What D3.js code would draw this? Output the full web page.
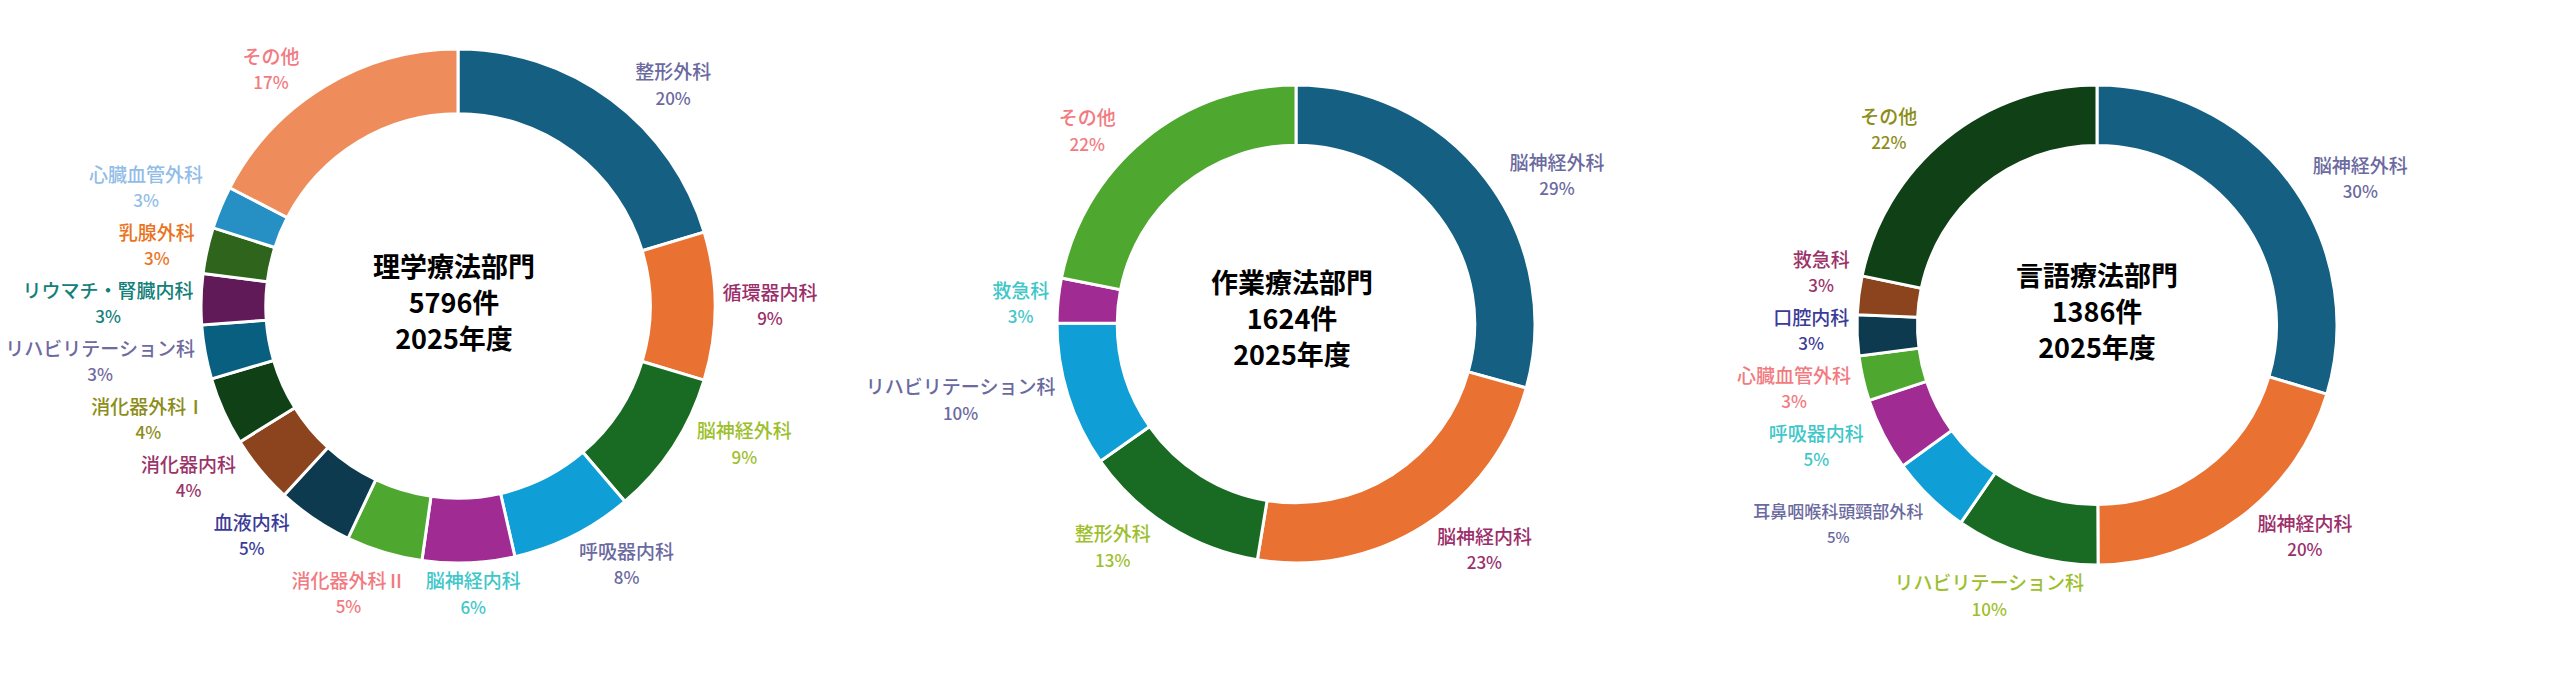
<html>
<head>
<script src="https://d3js.org/d3.v7.min.js"></script>
<style>
    body{ margin:0; background:#fff; }
    text{ font-family:"Noto Sans CJK JP","Noto Sans",sans-serif; }
</style>
</head>
<body>
<script>

// 理学療法部門
var ptCats = ["整形外科","循環器内科","脳神経外科","呼吸器内科","脳神経内科","消化器外科Ⅱ","血液内科",
              "消化器内科","消化器外科Ⅰ","リハビリテーション科","リウマチ・腎臓内科","乳腺外科","心臓血管外科","その他"];
var ptValues = [1180, 539, 527, 446, 336, 278, 278, 249, 249, 197, 185, 168, 156, 1008];

// 作業療法部門
var otCats = ["脳神経外科","脳神経内科","整形外科","リハビリテーション科","救急科","その他"];
var otValues = [476, 378, 206, 159, 49, 356];

// 言語療法部門
var stCats = ["脳神経外科","脳神経内科","リハビリテーション科","耳鼻咽喉科頭頸部外科","呼吸器内科",
              "心臓血管外科","口腔内科","救急科","その他"];
var stValues = [411, 281, 134, 75, 68, 42, 38, 36, 301];

var titles = [
    ["理学療法部門","5796件","2025年度"],
    ["作業療法部門","1624件","2025年度"],
    ["言語療法部門","1386件","2025年度"]
];

var segColors = ["#156082","#E97132","#196B24","#0F9ED5","#A02B93","#4EA72E",
                 "#0D3A4E","#8C441E","#0F4016","#095F80","#601A58","#2F641C","#2690C4","#EE8D5B"];
var labelColors = ["#6B6AA0","#9B2F6B","#9DBF2E","#6B6AA0","#3FC7C9","#F27A80","#3B3B98",
                   "#9A3468","#8C8C18","#6F6AA0","#14807A","#EA7322","#92BDE8","#F27A80"];
var smallLabels = ["耳鼻咽喉科頭頸部外科"];

var charts = [
    {cats: ptCats, values: ptValues, title: titles[0], cx: 458,  cy: 306, r: 257, tx: -4, ty: -3},
    {cats: otCats, values: otValues, title: titles[1], cx: 1296, cy: 324, r: 239, tx: -4, ty: -5},
    {cats: stCats, values: stValues, title: titles[2], cx: 2097, cy: 325, r: 240, tx: 0,  ty: -13}
];

var svg = d3.select("body").append("svg")
            .attr("width", 2560)
            .attr("height", 673);

svg.append("rect").attr("width", 2560).attr("height", 673).attr("fill", "#fff");

var pie = d3.pie().sort(null).value(function(d){ return d.value; });

// ラベル枠の原点からの最短距離
function nearest(x, y, w, h) {
    var px = Math.max(x - w, Math.min(0, x + w));
    var py = Math.max(y - h, Math.min(0, y + h));
    return Math.hypot(px, py);
}

charts.forEach(function(c){
    var data = c.cats.map(function(k, i){ return {name: k, value: c.values[i]}; });
    var total = d3.sum(c.values);
    var arc = d3.arc().innerRadius(c.r * 0.748).outerRadius(c.r);
    var arcs = pie(data);

    var g = svg.append("g").attr("transform", "translate(" + c.cx + "," + c.cy + ")");

    g.selectAll("path.seg")
        .data(arcs)
        .join("path")
        .attr("class", "seg")
        .attr("d", arc)
        .attr("fill", function(d){ return segColors[d.index]; })
        .attr("stroke", "#fff")
        .attr("stroke-width", 3);

    // データラベル
    var lab = g.selectAll("g.lab")
        .data(arcs)
        .join("g")
        .attr("class", "lab");

    lab.append("text")
        .attr("y", -13)
        .attr("dy", "0.36em")
        .attr("text-anchor", "middle")
        .attr("font-weight", 500)
        .attr("font-size", function(d){ return smallLabels.indexOf(d.data.name) >= 0 ? 17 : 19; })
        .attr("fill", function(d){ return labelColors[d.index]; })
        .text(function(d){ return d.data.name; });

    lab.append("text")
        .attr("y", 13)
        .attr("dy", "0.36em")
        .attr("text-anchor", "middle")
        .attr("font-weight", 500)
        .attr("font-size", function(d){ return smallLabels.indexOf(d.data.name) >= 0 ? 15 : 17; })
        .attr("fill", function(d){ return labelColors[d.index]; })
        .text(function(d){ return Math.round(d.value / total * 100) + "%"; });

    var gap = 7, hh = 24;
    lab.each(function(d){
        d.hw = this.getBBox().width / 2;
        var a = (d.startAngle + d.endAngle) / 2;
        a += 8 * Math.PI / 180 * Math.sin(2 * a);   // 横方向へ少し寄せる
        d.sx = Math.sin(a); d.sy = -Math.cos(a);
        var dist = c.r;
        while (nearest(d.sx * dist, d.sy * dist, d.hw, hh) < c.r + gap) dist += 1;
        d.lx = d.sx * dist;
        d.ly = d.sy * dist;
    });

    // 重なり回避
    var nodes = lab.data();
    var need = 58;
    for (var it = 0; it < 80; it++) {
        for (var i = 0; i < nodes.length; i++) {
            for (var j = i + 1; j < nodes.length; j++) {
                var a1 = nodes[i], b1 = nodes[j];
                if (Math.abs(a1.lx - b1.lx) < a1.hw + b1.hw + 6 && Math.abs(a1.ly - b1.ly) < need) {
                    var o = (need - Math.abs(a1.ly - b1.ly)) / 2;
                    if (a1.ly < b1.ly) { a1.ly -= o; b1.ly += o; } else { a1.ly += o; b1.ly -= o; }
                }
            }
        }
        nodes.forEach(function(d){
            var k = 0;
            while (nearest(d.lx, d.ly, d.hw, hh) < c.r + gap && k < 200) {
                d.lx += d.sx; k++;
            }
        });
    }

    lab.attr("transform", function(d){ return "translate(" + d.lx + "," + d.ly + ")"; });

    // 中央テキスト
    var tt = g.append("text")
        .attr("text-anchor", "middle")
        .attr("font-size", 27)
        .attr("font-weight", "bold")
        .attr("fill", "#000");
    c.title.forEach(function(s, i){
        tt.append("tspan")
          .attr("x", c.tx)
          .attr("y", c.ty + (i - 1) * 36)
          .attr("dy", "0.36em")
          .text(s);
    });
});

</script>
</body>
</html>
